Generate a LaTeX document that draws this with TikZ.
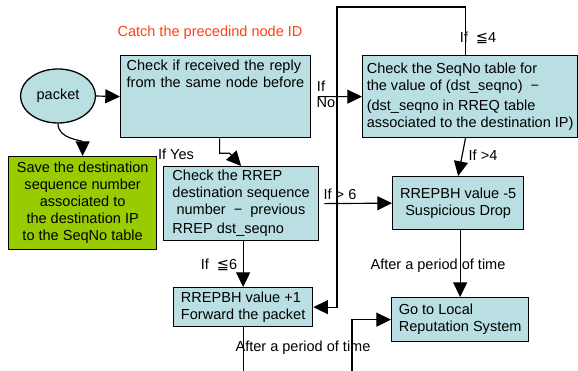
\documentclass[tikz,border=0pt]{standalone}
\usepackage{fontspec}
\setmainfont{Liberation Sans}
\newfontfamily\leqfont{DejaVu Sans}
\newcommand\leqsign{{\leqfont ≦}}
\usetikzlibrary{arrows.meta,shapes.geometric}
\definecolor{boxcyan}{RGB}{185,223,226}
\definecolor{boxgreen}{RGB}{153,204,0}
\definecolor{notered}{RGB}{255,64,16}
\begin{document}
\begin{tikzpicture}[x=0.03cm, y=0.03cm,
font=\fontsize{12.4}{14.5}\selectfont,
% common options for blocks:
block/.style = {draw, line width=1.1pt, fill=boxcyan, anchor=north west,
            inner ysep=0.1cm, inner xsep=0},
% common options for the arrows:
arr/.style = {line width=1pt, -{Triangle[length=0.44cm,width=0.42cm]}},
% common options for the labels:
lbl/.style = {inner sep=0}]
\path[use as bounding box, clip] (0,0) rectangle (578,-371);
\node[lbl, text=notered] (catchid) at (210,-33) {Catch the precedind node ID};
\node[ellipse, draw, line width=1.1pt, fill=boxcyan, minimum width=2.25cm, minimum height=1.62cm, inner sep=0] (packet) at (58,-96) {packet};
\node[block, align=left, text width=5.34cm, inner xsep=0.18cm, text height=0.35cm, text depth=1.91cm] (reply) at (120,-55) {Check if received the reply\\from the same node before};
\node[block, fill=boxgreen, align=center, minimum width=4.44cm, minimum height=2.79cm] (savetbl) at (8,-156) {Save the destination\\sequence number\\associated to\\the destination IP\\to the SeqNo table};
\node[block, align=left, minimum width=6.45cm, minimum height=2.46cm] (seqno) at (362,-55) {Check the SeqNo table for\\the value of (dst\_seqno) \ −\\[0.1cm](dst\_seqno in RREQ table\\associated to the destination IP)};
\node[block, align=left, minimum width=4.65cm, minimum height=2.22cm] (chkrrep) at (163,-166) {Check the RREP\\destination sequence\\\ number \ − \ previous\\[0.06cm]RREP dst\_seqno};
\node[block, align=center, minimum width=3.93cm, minimum height=1.59cm] (drop) at (392,-176) {RREPBH value -5\\Suspicious Drop};
\node[block, align=left, minimum width=4.17cm, minimum height=1.17cm] (forward) at (173,-287) {RREPBH value +1\\Forward the packet};
\node[block, align=left, minimum width=4.11cm, minimum height=1.32cm] (local) at (391,-297) {Go to Local\\Reputation System};
% labels on the arrows
\node[lbl] (ifyes) at (176,-154) {If Yes};
\node[lbl] (ifno1) at (321,-86) {If};
\node[lbl] (ifno2) at (326,-103) {No};
\node[lbl] (ifle4) at (478,-38) {If\ \ \leqsign4};
\node[lbl] (ifgt4) at (483,-155) {If >4};
\node[lbl] (ifgt6) at (340,-194) {If > 6};
\node[lbl] (ifle6) at (219,-265) {If\ \ \leqsign6};
\node[lbl] (after1) at (438,-266) {After a period of time};
\node[lbl] (after2) at (303,-348) {After a period of time};
\coordinate (topturn) at (337,-7);
\coordinate (botturn) at (352,-400);
\draw[arr] (packet.south) to[out=-90,in=90] (savetbl.north);
\draw[arr] (packet.east) -- (reply.west);
\draw[arr] ([xshift=0.12cm]reply.south) |- ++(10,-15) -- (chkrrep.north);
\draw[arr, shorten <=0.2cm] (reply.east) -- (seqno.west);
\draw[arr] ([xshift=-0.14cm]seqno.north) |- (topturn) |- (forward.east);
\draw[arr] ([xshift=-0.14cm]seqno.south) -- (drop.north);
\draw[arr, shorten <=0.15cm] (chkrrep.east) -- (drop.west);
\draw[arr] (forward.north |- chkrrep.south) -- (forward.north);
\draw[arr] (local.north |- drop.south) -- (local.north);
\draw[arr] (forward.south) |- (botturn) |- (local.west);
\end{tikzpicture}
\end{document}
